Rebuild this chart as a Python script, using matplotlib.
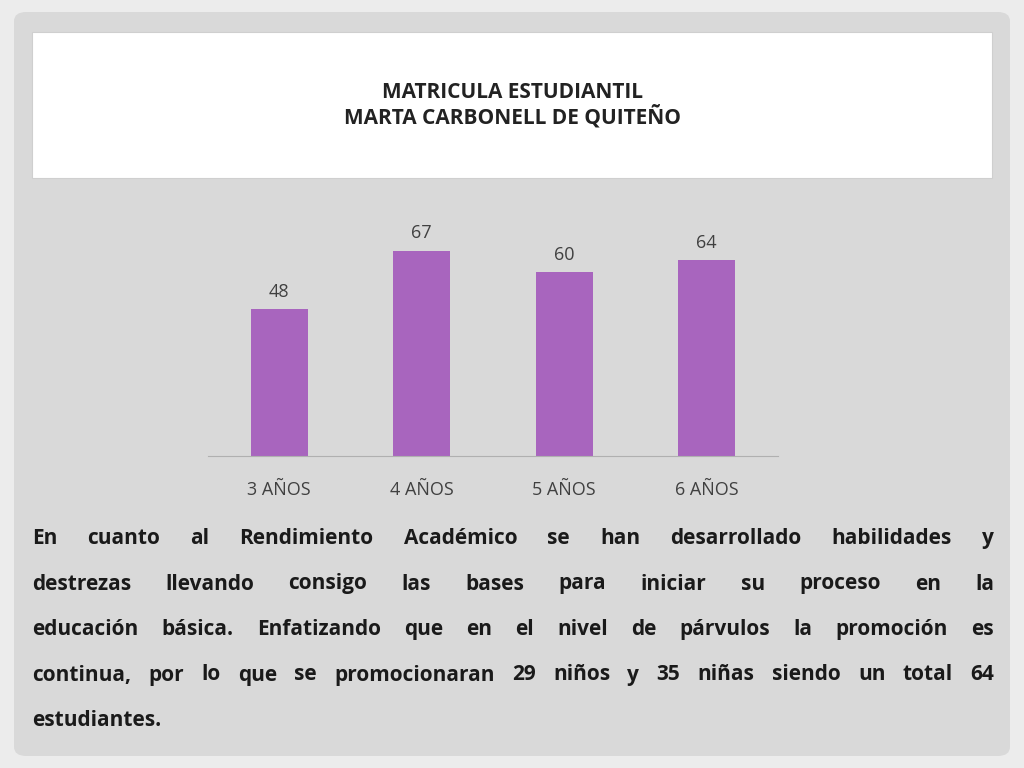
import matplotlib
matplotlib.use('Agg')
import matplotlib.pyplot as plt
from matplotlib.patches import FancyBboxPatch, Rectangle

categorias = ['3 AÑOS', '4 AÑOS', '5 AÑOS', '6 AÑOS']
matricula = [48, 67, 60, 64]

titulo = 'MATRICULA ESTUDIANTIL\nMARTA CARBONELL DE QUITEÑO'
lineas = [
    'En cuanto al Rendimiento Académico se han desarrollado habilidades y',
    'destrezas llevando consigo las bases  para iniciar su proceso en la',
    'educación básica. Enfatizando que en el nivel de párvulos la promoción es',
    'continua, por lo que se promocionaran 29 niños y 35 niñas siendo un total 64',
    'estudiantes.',
]

MORADO = '#a865be'
GRIS = '#404040'
FUENTE = 'Open Sans'

fig = plt.figure(figsize=(10.24, 7.68), dpi=100)
fig.patch.set_facecolor('#ececec')
W, H = 1024, 768

def fx(px):
    return px / W

def fy(py):
    return 1 - py / H

# panel gris y caja blanca del título (detrás de los ejes)
fig.patches.append(FancyBboxPatch((fx(14), fy(756)), fx(996), 744 / H,
                                  boxstyle='round,pad=0,rounding_size=0.012',
                                  transform=fig.transFigure, facecolor='#d9d9d9',
                                  edgecolor='none', zorder=-3))
fig.patches.append(Rectangle((fx(32), fy(178)), fx(960), 146 / H,
                             transform=fig.transFigure, facecolor='white',
                             edgecolor='#cfcfcf', linewidth=0.8, zorder=-2))
fig.text(0.5, fy(105), titulo, ha='center', va='center', fontsize=15,
         fontweight='bold', color='#222222', family=FUENTE, linespacing=1.1)

# gráfico de barras
ax = fig.add_axes([fx(208), fy(456), fx(570), 245 / H])
ax.set_facecolor('none')
x = range(len(categorias))
barras = ax.bar(x, matricula, width=0.4, color=MORADO)
ax.bar_label(barras, fontsize=13, color=GRIS, padding=6, family=FUENTE)
ax.set_xlim(-0.5, 3.5)
ax.set_ylim(0, 80)
ax.set_xticks(list(x))
ax.set_xticklabels(categorias, fontsize=13, color=GRIS, family=FUENTE)
ax.tick_params(axis='x', length=0, pad=18)
ax.set_yticks([])
for s in ['top', 'right', 'left']:
    ax.spines[s].set_visible(False)
ax.spines['bottom'].set_color('#b0b0b0')

# párrafo justificado
renderer = fig.canvas.get_renderer()
izq, der = 32, 994
y0, paso = 544, 45.5
for i, linea in enumerate(lineas):
    y = fy(y0 + i * paso)
    palabras = linea.split()
    if i == len(lineas) - 1:
        fig.text(fx(izq), y, linea, ha='left', va='baseline', fontsize=15,
                 fontweight='bold', color='#1a1a1a', family=FUENTE)
        continue
    objs = [fig.text(0, y, p, ha='left', va='baseline', fontsize=15,
                     fontweight='bold', color='#1a1a1a', family=FUENTE)
            for p in palabras]
    anchos = [o.get_window_extent(renderer).width for o in objs]
    hueco = (der - izq - sum(anchos)) / (len(palabras) - 1)
    pos = izq
    for o, a in zip(objs, anchos):
        o.set_x(fx(pos))
        pos += a + hueco

fig.savefig('out.png', dpi=100)
